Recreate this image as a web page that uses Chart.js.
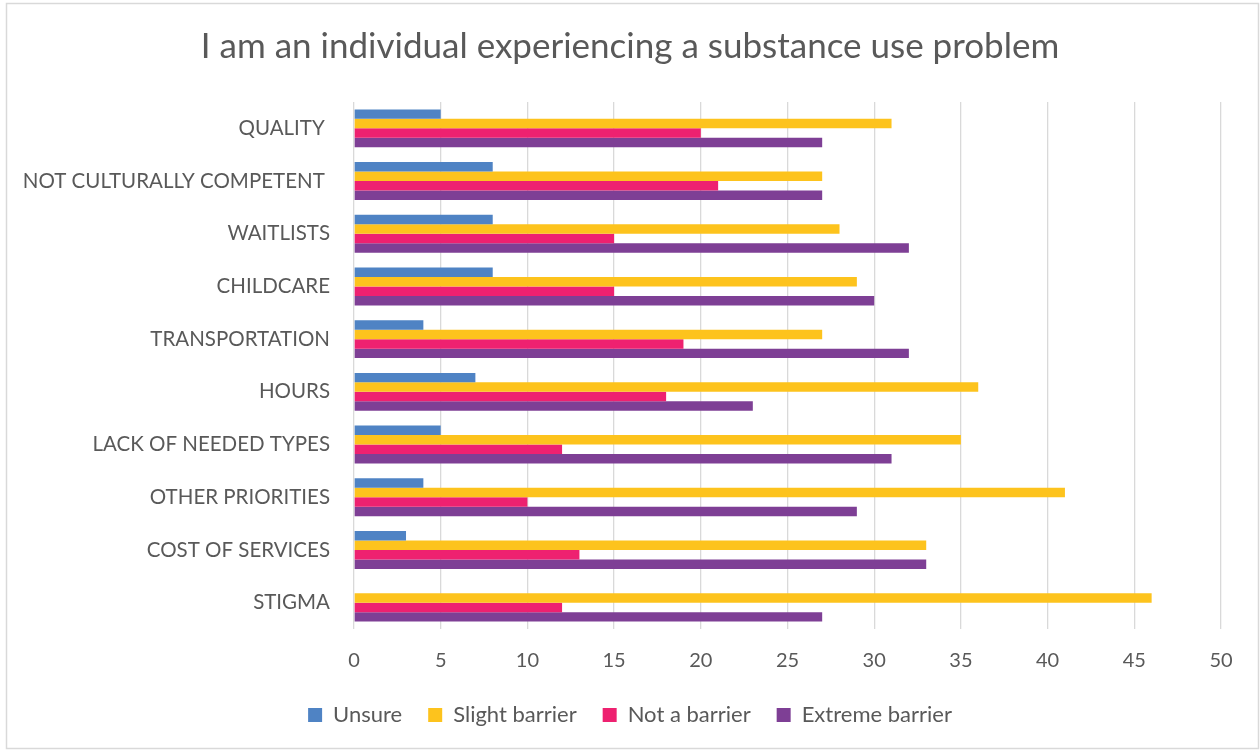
<!DOCTYPE html>
<html>
<head>
<meta charset="utf-8">
<script src="https://cdn.jsdelivr.net/npm/chart.js@4"></script>
<style>
  html, body { margin: 0; padding: 0; background: #fff; }
  #wrap { width: 1260px; height: 750px; position: relative; }
</style>
</head>
<body>
<div id="wrap"><canvas id="chart" width="1260" height="750"></canvas></div>
<script>
const categories = ['QUALITY ', 'NOT CULTURALLY COMPETENT ', 'WAITLISTS', 'CHILDCARE', 'TRANSPORTATION',
    'HOURS', 'LACK OF NEEDED TYPES', 'OTHER PRIORITIES', 'COST OF SERVICES', 'STIGMA'];
const unsure = [5, 8, 8, 8, 4, 7, 5, 4, 3, 0];
const slightBarrier = [31, 27, 28, 29, 27, 36, 35, 41, 33, 46];
const notABarrier = [20, 21, 15, 15, 19, 18, 12, 10, 13, 12];
const extremeBarrier = [27, 27, 32, 30, 32, 23, 31, 29, 33, 27];

const textColor = '#595959';
const fontFamily = 'Lato, "Open Sans", sans-serif';

// light grey frame round the whole chart
const framePlugin = {
    id: 'frame',
    beforeDraw(chart) {
        const ctx = chart.ctx;
        ctx.save();
        ctx.fillStyle = '#ffffff';
        ctx.fillRect(0, 0, chart.width, chart.height);
        ctx.strokeStyle = '#d9d9d9';
        ctx.lineWidth = 1.5;
        ctx.strokeRect(6.5, 3.5, 1252, 745);
        ctx.restore();
    }
};

function series(label, data, color) {
    return {
        label: label,
        data: data,
        backgroundColor: color,
        borderWidth: 0,
        barPercentage: 1,
        categoryPercentage: 0.72
    };
}

new Chart(document.getElementById('chart'), {
    type: 'bar',
    data: {
        labels: categories,
        datasets: [
            series('Unsure', unsure, '#4f83c4'),
            series('Slight barrier', slightBarrier, '#fdc31d'),
            series('Not a barrier', notABarrier, '#ee2170'),
            series('Extreme barrier', extremeBarrier, '#7e3f95')
        ]
    },
    options: {
        indexAxis: 'y',
        responsive: false,
        animation: false,
        layout: { padding: { left: 0, right: 0, top: 10, bottom: 14 } },
        scales: {
            x: {
                min: 0,
                max: 50,
                ticks: {
                    stepSize: 5,
                    color: textColor,
                    padding: 20,
                    font: { family: fontFamily, size: 20 }
                },
                grid: { color: '#d9d9d9', lineWidth: 1.3, drawTicks: false },
                border: { display: false },
                afterFit: (scale) => { scale.height = 49; }
            },
            y: {
                ticks: {
                    color: textColor,
                    padding: 24,
                    font: { family: fontFamily, size: 20.5 }
                },
                grid: { display: false, drawTicks: false },
                border: { display: false },
                afterFit: (scale) => { scale.width = 354; }
            },
            // empty strip on the right so the plot ends at 50 like the original
            yRight: {
                type: 'category',
                position: 'right',
                ticks: { display: false },
                grid: { display: false, drawTicks: false },
                border: { display: false },
                afterFit: (scale) => { scale.width = 39; }
            }
        },
        plugins: {
            title: {
                display: true,
                text: 'I am an individual experiencing a substance use problem',
                color: textColor,
                font: { family: fontFamily, size: 35, weight: 'normal' },
                padding: { top: 16, bottom: 34 }
            },
            legend: {
                position: 'bottom',
                labels: {
                    color: textColor,
                    boxWidth: 14,
                    boxHeight: 14,
                    padding: 26,
                    font: { family: fontFamily, size: 22 }
                }
            },
            tooltip: { enabled: false }
        }
    },
    plugins: [framePlugin]
});
</script>
</body>
</html>
